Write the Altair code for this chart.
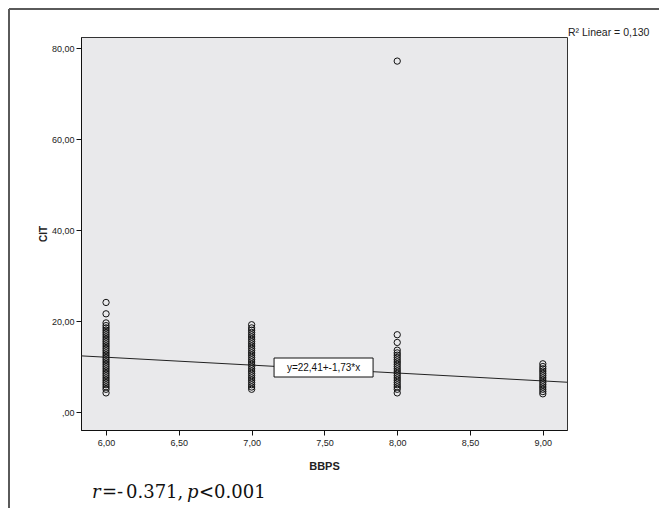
import altair as alt
import pandas as pd

# ---- data ----
bbps_6 = [4.2, 5, 5.5, 6, 6.5, 7, 7.5, 8, 8.5, 9, 9.5, 10, 10.5, 11, 11.5, 12, 12.5,
          13, 13.5, 14, 14.5, 15, 15.5, 16, 16.5, 17, 17.5, 18, 18.5, 19, 19.6, 21.6, 24.1]
bbps_7 = [5, 5.5, 6, 6.5, 7, 7.5, 8, 8.5, 9, 9.5, 10, 10.5, 11, 11.5, 12, 12.5, 13,
          13.5, 14, 14.5, 15, 15.5, 16, 16.5, 17, 17.5, 18, 18.5, 19.2]
bbps_8 = [4.2, 5, 5.5, 6, 6.5, 7, 7.5, 8, 8.5, 9, 9.5, 10, 10.5, 11, 11.5, 12, 12.5,
          13, 13.6, 15.3, 17, 77.2]
bbps_9 = [4, 4.5, 5, 5.5, 6, 6.5, 7, 7.5, 8, 8.5, 9, 9.5, 10, 10.6]

fit_x = [5.828, 9.166]
fit_y = [12.35, 6.55]

eq_box_x = [7.154]
eq_box_x2 = [7.834]
eq_box_y = [11.88]
eq_box_y2 = [7.70]
eq_label = ["y=22,41+-1,73*x"]

x_ticks = [6, 6.5, 7, 7.5, 8, 8.5, 9]
y_ticks = [0, 20, 40, 60, 80]
x_domain = [5.828, 9.166]
y_domain = [-3.96, 82.5]

r2_label = "R² Linear = 0,130"
stat_parts = ["r", "=-", "0.371,", "p", "<0.001"]
stat_italic = [True, False, False, True, False]

rows = []
for xv, ys in [(6, bbps_6), (7, bbps_7), (8, bbps_8), (9, bbps_9)]:
    for yv in ys:
        rows.append({"BBPS": xv, "CIT": yv})
pts = pd.DataFrame(rows)
fit = pd.DataFrame({"BBPS": fit_x, "CIT": fit_y})
box = pd.DataFrame({"x": eq_box_x, "x2": eq_box_x2, "y": eq_box_y, "y2": eq_box_y2,
                    "xm": [(eq_box_x[0] + eq_box_x2[0]) / 2],
                    "ym": [(eq_box_y[0] + eq_box_y2[0]) / 2], "label": eq_label})

lab_expr = "datum.value == 0 ? ',00' : replace(format(datum.value, '.2f'), '.', ',')"

xs = alt.Scale(domain=x_domain, nice=False, zero=False)
ys_ = alt.Scale(domain=y_domain, nice=False, zero=False)

x_axis = alt.Axis(values=x_ticks, labelExpr=lab_expr, title="BBPS", grid=False,
                  domainColor="#111", tickColor="#111", tickSize=5,
                  labelFont="Liberation Sans", labelFontSize=9, labelColor="#222",
                  labelPadding=3,
                  titleFont="Liberation Sans", titleFontSize=11, titleFontWeight="bold",
                  titleColor="#222", titlePadding=13)
y_axis = alt.Axis(values=y_ticks, labelExpr=lab_expr, title="CIT", grid=False,
                  domainColor="#111", tickColor="#111", tickSize=5,
                  labelFont="Liberation Sans", labelFontSize=9, labelColor="#222",
                  labelPadding=2,
                  titleFont="Liberation Sans", titleFontSize=10, titleFontWeight="bold",
                  titleColor="#222", titlePadding=3)

points = alt.Chart(pts).mark_point(shape="circle", filled=False, size=40,
                                   stroke="#111", strokeWidth=1, opacity=1).encode(
    x=alt.X("BBPS:Q", scale=xs, axis=x_axis),
    y=alt.Y("CIT:Q", scale=ys_, axis=y_axis),
)

line = alt.Chart(fit).mark_line(color="#222", strokeWidth=1).encode(
    x=alt.X("BBPS:Q", scale=xs),
    y=alt.Y("CIT:Q", scale=ys_),
)

eq_rect = alt.Chart(box).mark_rect(fill="white", stroke="#111", strokeWidth=1).encode(
    x=alt.X("x:Q", scale=xs), x2="x2:Q",
    y=alt.Y("y:Q", scale=ys_), y2="y2:Q",
)
eq_text = alt.Chart(box).mark_text(font="Liberation Sans", fontSize=10, color="#111").encode(
    x=alt.X("xm:Q", scale=xs), y=alt.Y("ym:Q", scale=ys_), text="label:N",
)

anno = pd.DataFrame({"k": [0]})
r2 = alt.Chart(anno).mark_text(text=r2_label, font="Liberation Sans", fontSize=10.5,
                               align="left", baseline="middle", color="#222").encode(
    x=alt.value(487), y=alt.value(-4))

frame_top = alt.Chart(anno).mark_rule(stroke="#5a5a5a", strokeWidth=2).encode(
    x=alt.value(-72), x2=alt.value(700), y=alt.value(-28))
frame_left = alt.Chart(anno).mark_rule(stroke="#5a5a5a", strokeWidth=2).encode(
    x=alt.value(-72), y=alt.value(-28), y2=alt.value(600))

# statistic line below the chart, placed piece by piece (pixel offsets from plot origin)
stat_x = [11, 21, 45, 106, 118]
stat_layers = []
for txt, ital, px in zip(stat_parts, stat_italic, stat_x):
    kw = dict(text=txt, font="DejaVu Serif", fontSize=18, align="left",
              baseline="alphabetic", color="#111")
    if ital:
        kw["fontStyle"] = "italic"
    stat_layers.append(
        alt.Chart(anno).mark_text(**kw).encode(x=alt.value(px), y=alt.value(461)))

chart = alt.layer(frame_top, frame_left, line, eq_rect, eq_text, points, r2,
                  *stat_layers).properties(
    width=486, height=393,
    autosize=alt.AutoSizeParams(type="none"),
    padding={"left": 73, "top": 29, "right": 92, "bottom": 78},
    background="white",
).configure_view(fill="#e9e9eb", stroke="#333", strokeWidth=1)

chart.save("out.html", embed_options={"renderer": "svg", "actions": False})
